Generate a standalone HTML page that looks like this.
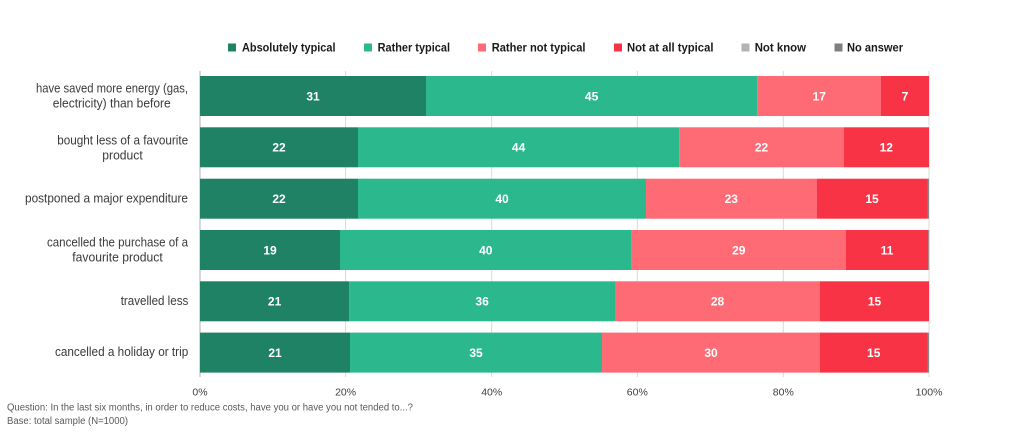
<!DOCTYPE html>
<html><head><meta charset="utf-8"><style>
html,body{margin:0;padding:0;background:#fff;}
svg{display:block;}
text{font-family:"Liberation Sans",Arial,sans-serif;}
</style></head><body>
<svg width="1024" height="435" viewBox="0 0 1024 435" xmlns="http://www.w3.org/2000/svg">
<rect width="1024" height="435" fill="#fff"/>
<!-- legend -->
<g font-weight="bold" font-size="12" fill="#1a1a1a">
<rect x="228" y="43.5" width="8" height="8" fill="#1f8264"/>
<text x="242" y="51.5" textLength="93.5" lengthAdjust="spacingAndGlyphs">Absolutely typical</text>
<rect x="364" y="43.5" width="8" height="8" fill="#2cb88d"/>
<text x="377.6" y="51.5" textLength="72.4" lengthAdjust="spacingAndGlyphs">Rather typical</text>
<rect x="478" y="43.5" width="8" height="8" fill="#ff6b74"/>
<text x="491.7" y="51.5" textLength="93.8" lengthAdjust="spacingAndGlyphs">Rather not typical</text>
<rect x="614" y="43.5" width="8" height="8" fill="#f83345"/>
<text x="627" y="51.5" textLength="86.5" lengthAdjust="spacingAndGlyphs">Not at all typical</text>
<rect x="741.5" y="43.5" width="8" height="8" fill="#b3b3b3"/>
<text x="754.7" y="51.5" textLength="51.3" lengthAdjust="spacingAndGlyphs">Not know</text>
<rect x="834.5" y="43.5" width="8" height="8" fill="#7f7f7f"/>
<text x="847" y="51.5" textLength="56" lengthAdjust="spacingAndGlyphs">No answer</text>
</g>
<!-- gridlines -->
<g stroke="#d9d9d9" stroke-width="1">
<line x1="345.6" y1="71" x2="345.6" y2="377"/>
<line x1="491.7" y1="71" x2="491.7" y2="377"/>
<line x1="637.3" y1="71" x2="637.3" y2="377"/>
<line x1="783.3" y1="71" x2="783.3" y2="377"/>
<line x1="929" y1="71" x2="929" y2="377"/>
</g>
<line x1="200" y1="71" x2="200" y2="377" stroke="#bfbfbf" stroke-width="1.2"/>
<!-- bars -->
<g>
<!-- row1 -->
<rect x="200" y="76" width="226" height="40" fill="#1f8264"/>
<rect x="426" y="76" width="331.3" height="40" fill="#2cb88d"/>
<rect x="757.3" y="76" width="123.7" height="40" fill="#ff6b74"/>
<rect x="881" y="76" width="48" height="40" fill="#f83345"/>
<!-- row2 -->
<rect x="200" y="127.3" width="158" height="40" fill="#1f8264"/>
<rect x="358" y="127.3" width="321.3" height="40" fill="#2cb88d"/>
<rect x="679.3" y="127.3" width="164.4" height="40" fill="#ff6b74"/>
<rect x="843.7" y="127.3" width="85.3" height="40" fill="#f83345"/>
<!-- row3 -->
<rect x="200" y="178.7" width="158" height="40" fill="#1f8264"/>
<rect x="358" y="178.7" width="288" height="40" fill="#2cb88d"/>
<rect x="646" y="178.7" width="170.7" height="40" fill="#ff6b74"/>
<rect x="816.7" y="178.7" width="110.8" height="40" fill="#f83345"/>
<rect x="927.5" y="178.7" width="1.5" height="40" fill="#8a8a8a"/>
<!-- row4 -->
<rect x="200" y="230" width="140" height="40" fill="#1f8264"/>
<rect x="340" y="230" width="291.7" height="40" fill="#2cb88d"/>
<rect x="631.7" y="230" width="214.3" height="40" fill="#ff6b74"/>
<rect x="846" y="230" width="82.3" height="40" fill="#f83345"/>
<rect x="928.3" y="230" width="0.9" height="40" fill="#8a8a8a"/>
<!-- row5 -->
<rect x="200" y="281.3" width="149.3" height="40" fill="#1f8264"/>
<rect x="349.3" y="281.3" width="265.7" height="40" fill="#2cb88d"/>
<rect x="615" y="281.3" width="205" height="40" fill="#ff6b74"/>
<rect x="820" y="281.3" width="109" height="40" fill="#f83345"/>
<!-- row6 -->
<rect x="200" y="332.6" width="150" height="40" fill="#1f8264"/>
<rect x="350" y="332.6" width="252" height="40" fill="#2cb88d"/>
<rect x="602" y="332.6" width="218" height="40" fill="#ff6b74"/>
<rect x="820" y="332.6" width="107.5" height="40" fill="#f83345"/>
<rect x="927.5" y="332.6" width="1.5" height="40" fill="#8a8a8a"/>
</g>
<!-- values -->
<g font-weight="bold" font-size="12" fill="#fff" text-anchor="middle">
<text x="313" y="100.3">31</text>
<text x="591.6" y="100.3">45</text>
<text x="819.2" y="100.3">17</text>
<text x="905" y="100.3">7</text>
<text x="279" y="151.6">22</text>
<text x="518.6" y="151.6">44</text>
<text x="761.5" y="151.6">22</text>
<text x="886.3" y="151.6">12</text>
<text x="279" y="203">22</text>
<text x="502" y="203">40</text>
<text x="731.3" y="203">23</text>
<text x="872" y="203">15</text>
<text x="270" y="254.3">19</text>
<text x="485.8" y="254.3">40</text>
<text x="738.8" y="254.3">29</text>
<text x="887" y="254.3">11</text>
<text x="274.6" y="305.6">21</text>
<text x="482.1" y="305.6">36</text>
<text x="717.5" y="305.6">28</text>
<text x="874.5" y="305.6">15</text>
<text x="275" y="356.9">21</text>
<text x="476" y="356.9">35</text>
<text x="711" y="356.9">30</text>
<text x="873.7" y="356.9">15</text>
</g>
<!-- category labels -->
<g font-size="13" fill="#3a3a3a" text-anchor="middle">
<text x="112" y="92.3" textLength="152" lengthAdjust="spacingAndGlyphs">have saved more energy (gas,</text>
<text x="111.7" y="107.5" textLength="118" lengthAdjust="spacingAndGlyphs">electricity) than before</text>
<text x="122.7" y="144.3" textLength="131" lengthAdjust="spacingAndGlyphs">bought less of a favourite</text>
<text x="122.5" y="159.5" textLength="40.4" lengthAdjust="spacingAndGlyphs">product</text>
<text x="106.5" y="202.6" textLength="163" lengthAdjust="spacingAndGlyphs">postponed a major expenditure</text>
<text x="117.5" y="246.4" textLength="141" lengthAdjust="spacingAndGlyphs">cancelled the purchase of a</text>
<text x="117.5" y="261.7" textLength="90.4" lengthAdjust="spacingAndGlyphs">favourite product</text>
<text x="154.5" y="305" textLength="67.6" lengthAdjust="spacingAndGlyphs">travelled less</text>
<text x="121.6" y="356.2" textLength="133.3" lengthAdjust="spacingAndGlyphs">cancelled a holiday or trip</text>
</g>
<!-- axis labels -->
<g font-size="10.5" fill="#404040" text-anchor="middle">
<text x="200" y="395.5">0%</text>
<text x="345.6" y="395.5">20%</text>
<text x="491.7" y="395.5">40%</text>
<text x="637.3" y="395.5">60%</text>
<text x="783.3" y="395.5">80%</text>
<text x="929" y="395.5">100%</text>
</g>
<!-- footer -->
<g font-size="10" fill="#595959">
<text x="7" y="410.5" textLength="406" lengthAdjust="spacingAndGlyphs">Question: In the last six months, in order to reduce costs, have you or have you not tended to...?</text>
<text x="7" y="424" textLength="121" lengthAdjust="spacingAndGlyphs">Base: total sample (N=1000)</text>
</g>
</svg>
</body></html>
